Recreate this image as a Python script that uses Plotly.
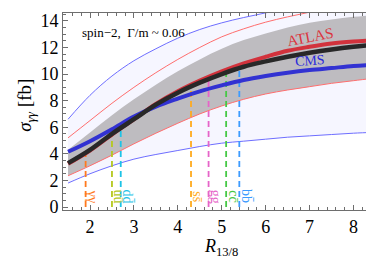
import numpy as np
import plotly.graph_objects as go

# ---- data ----
R = [1.5, 2.0, 2.5, 3.0, 3.5, 4.0, 4.5, 5.0, 5.5, 6.0, 6.5, 7.0, 7.5, 8.0, 8.5]
combined = [3.3, 4.3, 5.5, 6.6, 7.7, 8.6, 9.35, 10.0, 10.55, 10.95, 11.3, 11.6, 11.85, 12.05, 12.2]
atlas = [3.25, 4.25, 5.45, 6.6, 7.75, 8.7, 9.5, 10.2, 10.8, 11.3, 11.75, 12.05, 12.3, 12.45, 12.55]
cms = [4.15, 4.95, 5.85, 6.8, 7.55, 8.15, 8.7, 9.15, 9.55, 9.85, 10.1, 10.3, 10.45, 10.6, 10.7]
band_low = [2.35, 3.1, 3.9, 4.75, 5.55, 6.3, 7.0, 7.6, 8.1, 8.5, 8.8, 9.05, 9.3, 9.5, 9.7]
band_high = [4.3, 5.6, 6.9, 8.1, 9.2, 10.2, 11.1, 11.9, 12.55, 13.05, 13.5, 13.85, 14.1, 14.3, 14.45]
atlas_up = [5.2, 6.5, 7.8, 9.0, 10.1, 11.1, 12.0, 12.8, 13.4, 13.9, 14.3, 14.65, 15.0, 15.3, 15.5]
cms_low = [1.8, 2.5, 3.1, 3.6, 3.95, 4.25, 4.55, 4.8, 4.95, 5.1, 5.25, 5.35, 5.45, 5.55, 5.62]
cms_up = [6.6, 8.4, 9.85, 11.0, 11.9, 12.7, 13.35, 13.85, 14.25, 14.6, 14.9, 15.15, 15.35, 15.5, 15.65]

parton_labels = ["γγ", "uū", "dd̄", "ss̄", "gg", "cc̄", "bb̄"]
parton_R = [1.9, 2.5, 2.7, 4.3, 4.7, 5.1, 5.4]
parton_colors = ["#FF7A1E", "#B4C81E", "#1EC3E6", "#FFAA1E", "#E664C8", "#46C846", "#3C9BFF"]

x_ticks = [2, 3, 4, 5, 6, 7, 8]
y_ticks = [0, 2, 4, 6, 8, 10, 12, 14]

SERIF = "Liberation Serif, Times New Roman, serif"
FRAME = "rgb(110,110,110)"

fig = go.Figure()

def line_trace(y, color, width, **kw):
    return go.Scatter(x=R, y=y, mode="lines", line=dict(color=color, width=width, shape="spline"),
                      hoverinfo="skip", showlegend=False, **kw)

# CMS 1-sigma band (lavender)
fig.add_trace(line_trace(cms_low, "rgba(0,0,0,0)", 0))
fig.add_trace(line_trace(cms_up, "rgba(0,0,0,0)", 0, fill="tonexty", fillcolor="rgb(246,246,255)"))
# combined band (gray)
fig.add_trace(line_trace(band_low, "rgba(0,0,0,0)", 0))
fig.add_trace(line_trace(band_high, "rgba(0,0,0,0)", 0, fill="tonexty", fillcolor="rgb(190,188,192)"))

# thin band edges
fig.add_trace(line_trace(cms_low, "rgb(110,110,255)", 1))
fig.add_trace(line_trace(cms_up, "rgb(110,110,255)", 1))
fig.add_trace(line_trace(band_low, "rgb(255,110,110)", 1))
fig.add_trace(line_trace(atlas_up, "rgb(255,110,110)", 1))

# dashed parton lines
comb_at = np.interp(parton_R, R, combined)
for xr, top, col in zip(parton_R, comb_at, parton_colors):
    fig.add_trace(go.Scatter(x=[xr, xr], y=[0, top], mode="lines", hoverinfo="skip",
                             line=dict(color=col, width=1.8, dash="6px,4px"), showlegend=False))

# thick lines
fig.add_trace(line_trace(atlas, "rgb(210,50,60)", 4))
fig.add_trace(line_trace(cms, "rgb(50,50,210)", 4))
fig.add_trace(line_trace(combined, "rgb(40,40,40)", 4.5))

annotations = []
for lab, xr, col in zip(parton_labels, parton_R, parton_colors):
    annotations.append(dict(x=xr, y=0.8, xref="x", yref="y", text=lab, showarrow=False,
                            textangle=90, xshift=7, font=dict(family=SERIF, size=14, color=col)))

annotations += [
    dict(x=0.054, y=0.9, xref="paper", yref="paper", text="spin−2,  Γ/m ~ 0.06", showarrow=False,
         xanchor="left", yanchor="middle", font=dict(family=SERIF, size=13, color="black")),
    dict(x=7.01, y=12.75, xref="x", yref="y", text="ATLAS", showarrow=False, textangle=-11,
         font=dict(family=SERIF, size=15, color="rgb(220,50,60)")),
    dict(x=7.02, y=11.05, xref="x", yref="y", text="CMS", showarrow=False, textangle=-4,
         font=dict(family=SERIF, size=14, color="rgb(40,40,220)")),
    dict(x=0.5, y=-0.19, xref="paper", yref="paper", text="<i>R</i><sub>13/8</sub>", showarrow=False,
         yanchor="middle", font=dict(family=SERIF, size=18, color="black")),
    dict(x=-0.12, y=0.53, xref="paper", yref="paper", text="<i>σ</i><sub><i>γγ</i></sub> [fb]", showarrow=False,
         textangle=-90, xanchor="center", yanchor="middle", font=dict(family=SERIF, size=19, color="black")),
]

axis_common = dict(showgrid=False, zeroline=False, showline=True, linecolor=FRAME, linewidth=1,
                   mirror="allticks", ticks="inside", ticklen=5, tickcolor=FRAME, automargin=False,
                   tickfont=dict(family=SERIF, size=18, color="black"))

fig.update_layout(
    width=374, height=258,
    margin=dict(l=55, r=4, t=5, b=56),
    paper_bgcolor="white", plot_bgcolor="white",
    showlegend=False,
    annotations=annotations,
    xaxis=dict(range=[1.385, 8.558], tickvals=x_ticks, ticktext=[str(v) for v in x_ticks],
               minor=dict(ticks="inside", ticklen=3, dtick=0.2, tick0=0, tickcolor=FRAME),
               **axis_common),
    yaxis=dict(range=[-0.226, 14.59], tickvals=y_ticks, ticktext=[str(v) for v in y_ticks],
               minor=dict(ticks="inside", ticklen=3, dtick=0.5, tick0=0, tickcolor=FRAME),
               **axis_common),
)

fig.write_html("out.html")
